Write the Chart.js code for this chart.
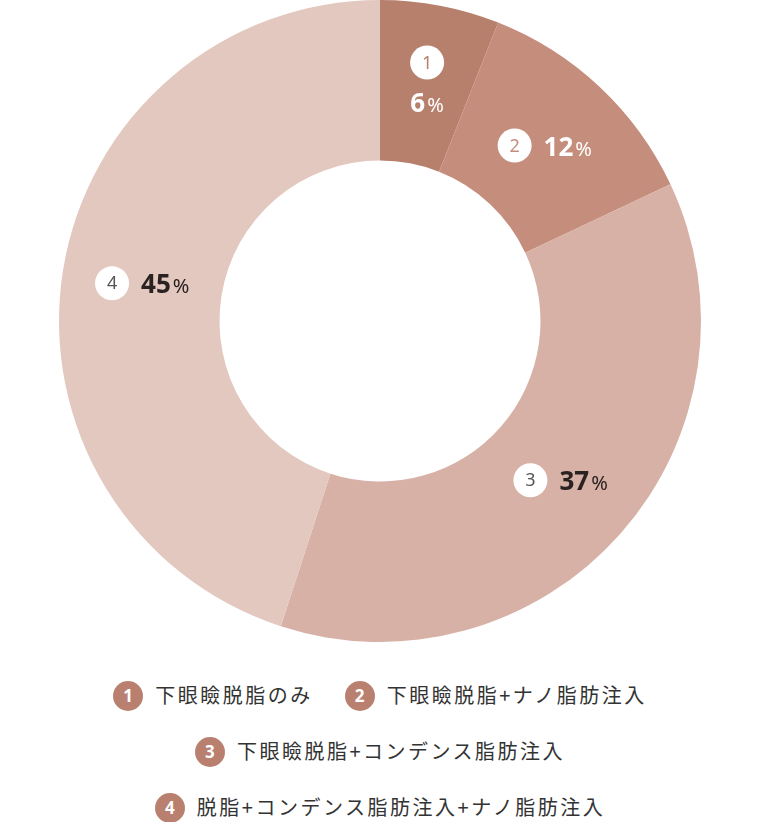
<!DOCTYPE html>
<html><head><meta charset="utf-8">
<script src="https://cdn.jsdelivr.net/npm/chart.js@4/dist/chart.umd.min.js"></script>
<style>
body{margin:0;background:#fff;font-family:"Noto Sans CJK JP","Noto Sans",sans-serif;}
#wrap{position:relative;width:760px;height:642px;}
.legend{width:760px;text-align:center;color:#333;font-size:20px;letter-spacing:2.5px;}
.row{height:56px;line-height:56px;}
.item{display:inline-block;margin:0 16px;}
.b{display:inline-block;width:30px;height:30px;border-radius:50%;background:#b98070;color:#fff;font-weight:bold;font-size:17px;line-height:30px;text-align:center;letter-spacing:0;margin-right:12px;vertical-align:middle;position:relative;top:-2px;font-family:"Noto Sans",sans-serif;}
</style></head><body>
<div id="wrap"><canvas id="c"></canvas></div>
<div class="legend" style="margin-top:25px">
<div class="row"><span class="item"><span class="b">1</span>下眼瞼脱脂のみ</span><span class="item"><span class="b">2</span>下眼瞼脱脂+ナノ脂肪注入</span></div>
<div class="row"><span class="item"><span class="b">3</span>下眼瞼脱脂+コンデンス脂肪注入</span></div>
<div class="row"><span class="item"><span class="b">4</span>脱脂+コンデンス脂肪注入+ナノ脂肪注入</span></div>
</div>
<script>
const categories=["下眼瞼脱脂のみ","下眼瞼脱脂+ナノ脂肪注入","下眼瞼脱脂+コンデンス脂肪注入","脱脂+コンデンス脂肪注入+ナノ脂肪注入"];
const values=[6,12,37,45];
const colors=["#b6806c","#c58d7c","#d7b1a5","#e3c8c0"];
const textColors=["#fff","#fff","#2a2220","#2a2220"];
const badgeText=["#b6806c","#c58d7c","#555","#555"];
const labelPlugin={id:'lbl',afterDatasetsDraw(chart){
 const ctx=chart.ctx;const meta=chart.getDatasetMeta(0);
 meta.data.forEach((arc,i)=>{
  const p=arc.tooltipPosition();
  ctx.save();
  const pct=String(values[i]);
  ctx.font='bold 26px "Noto Sans",sans-serif';
  const nw=ctx.measureText(pct).width;
  ctx.font='20px "Noto Sans",sans-serif';
  const sw=ctx.measureText('%').width;
  if(i===0){
   const cx=p.x+2, cy=p.y-22;
   ctx.fillStyle='#fff';ctx.beginPath();ctx.arc(cx,cy,17,0,Math.PI*2);ctx.fill();
   ctx.fillStyle=badgeText[i];ctx.font='18px "Noto Sans",sans-serif';ctx.textAlign='center';ctx.textBaseline='middle';ctx.fillText('1',cx,cy+1);
   const tw=nw+sw+2;let x=cx-tw/2;const y=cy+40;
   ctx.textAlign='left';ctx.textBaseline='alphabetic';ctx.fillStyle=textColors[i];
   ctx.font='bold 26px "Noto Sans",sans-serif';ctx.fillText(pct,x,y+9);
   ctx.font='20px "Noto Sans",sans-serif';ctx.fillText('%',x+nw+2,y+9);
  } else {
   const tw=34+12+nw+sw+2;let x=p.x-tw/2;const y=p.y;
   ctx.fillStyle='#fff';ctx.beginPath();ctx.arc(x+17,y,17,0,Math.PI*2);ctx.fill();
   ctx.fillStyle=badgeText[i];ctx.font='18px "Noto Sans",sans-serif';ctx.textAlign='center';ctx.textBaseline='middle';ctx.fillText(String(i+1),x+17,y+1);
   ctx.textAlign='left';ctx.textBaseline='alphabetic';ctx.fillStyle=textColors[i];
   x+=46;ctx.font='bold 26px "Noto Sans",sans-serif';ctx.fillText(pct,x,y+10);
   ctx.font='20px "Noto Sans",sans-serif';ctx.fillText('%',x+nw+2,y+10);
  }
  ctx.restore();
 });
}};
new Chart(document.getElementById('c'),{type:'doughnut',
 data:{labels:categories,datasets:[{data:values,backgroundColor:colors,borderWidth:0}]},
 options:{responsive:true,maintainAspectRatio:false,animation:false,cutout:'50%',
  layout:{padding:0},plugins:{legend:{display:false},tooltip:{enabled:false}}},
 plugins:[labelPlugin]});
</script></body></html>
